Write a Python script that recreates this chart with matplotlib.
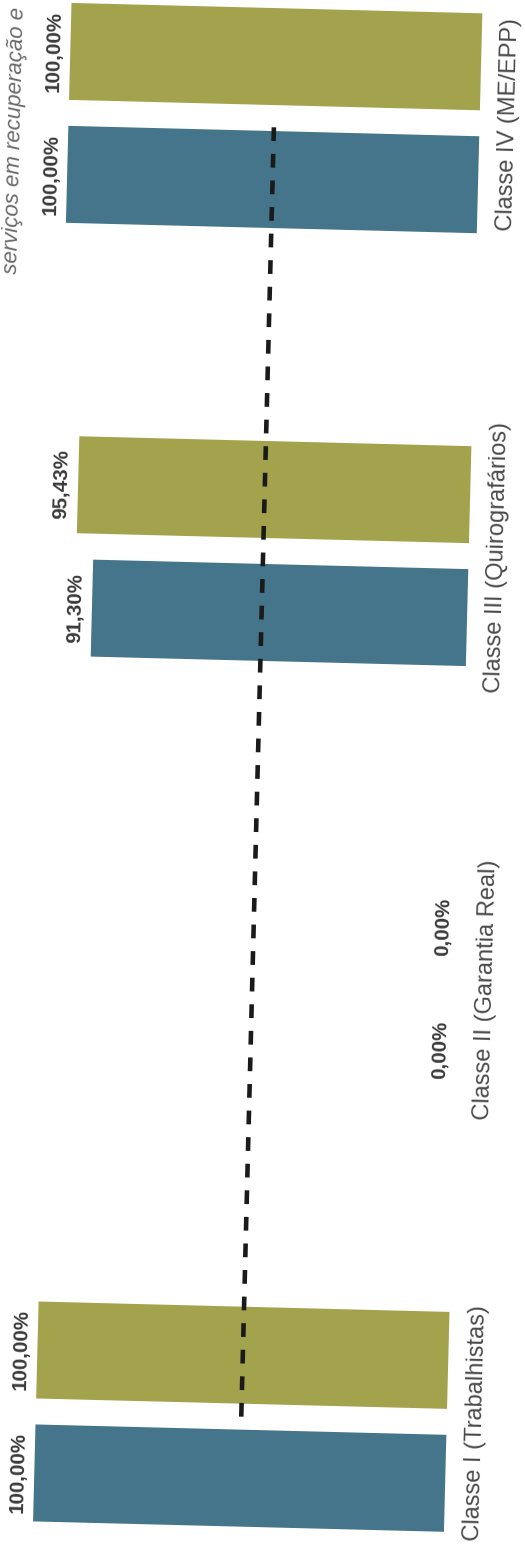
import matplotlib
matplotlib.use('Agg')
import matplotlib.pyplot as plt
from matplotlib.transforms import Affine2D

plt.rcParams['font.family'] = ['Liberation Sans', 'DejaVu Sans']

classes = ['Classe I (Trabalhistas)', 'Classe II (Garantia Real)',
           'Classe III (Quirografários)', 'Classe IV (ME/EPP)']
serie_azul = [100.00, 0.00, 91.30, 100.00]
serie_oliva = [100.00, 0.00, 95.43, 100.00]
quorum = [50, 50, 50, 50]
rotulos_azul = ['100,00%', '0,00%', '91,30%', '100,00%']
rotulos_oliva = ['100,00%', '0,00%', '95,43%', '100,00%']

azul = '#44758a'
oliva = '#a4a34d'

fig = plt.figure(figsize=(5.25, 15.52), dpi=100)
ax = fig.add_axes([0, 0, 1, 1])
ax.set_xlim(112.65, -15.09)
ax.set_ylim(-0.3118, 3.2725)
ax.axis('off')

# the scan is slightly tilted, rotate everything a bit
tilt = ax.transData + Affine2D().rotate_deg_around(262.5, 776, -1.45)
rot = 90 - 1.45

pos = list(range(len(classes)))
off = 0.142
h = 0.224

b1 = ax.barh([p - off for p in pos], serie_azul, height=h, color=azul)
b2 = ax.barh([p + off for p in pos], serie_oliva, height=h, color=oliva)
for p in list(b1) + list(b2):
    p.set_transform(tilt)
    p.set_clip_on(False)

ln, = ax.plot(quorum, pos, color='#1a1a1a', lw=3.3, dashes=(3.0, 2.8))
ln.set_transform(tilt)
ln.set_clip_on(False)

for i in pos:
    ax.text(serie_azul[i] + 3.9, i - off, rotulos_azul[i], transform=tilt,
            rotation=rot, rotation_mode='anchor', ha='center', va='center',
            fontsize=14.8, fontweight='bold', color='#3a3a3a')
    ax.text(serie_oliva[i] + 3.9, i + off, rotulos_oliva[i], transform=tilt,
            rotation=rot, rotation_mode='anchor', ha='center', va='center',
            fontsize=14.8, fontweight='bold', color='#3a3a3a')
    ax.text(-7.06, i, classes[i], transform=tilt,
            rotation=rot, rotation_mode='anchor', ha='center', va='center',
            fontsize=17, color='#4a4a4a')

# leftover of the page text at the edge of the scan
ax.text(111.5, 3.2425, 'serviços em recuperação e', transform=tilt,
        rotation=rot, rotation_mode='anchor', ha='right', va='baseline',
        fontsize=16, style='italic', color='#6a6a6a')

fig.savefig('out.png', dpi=100)
